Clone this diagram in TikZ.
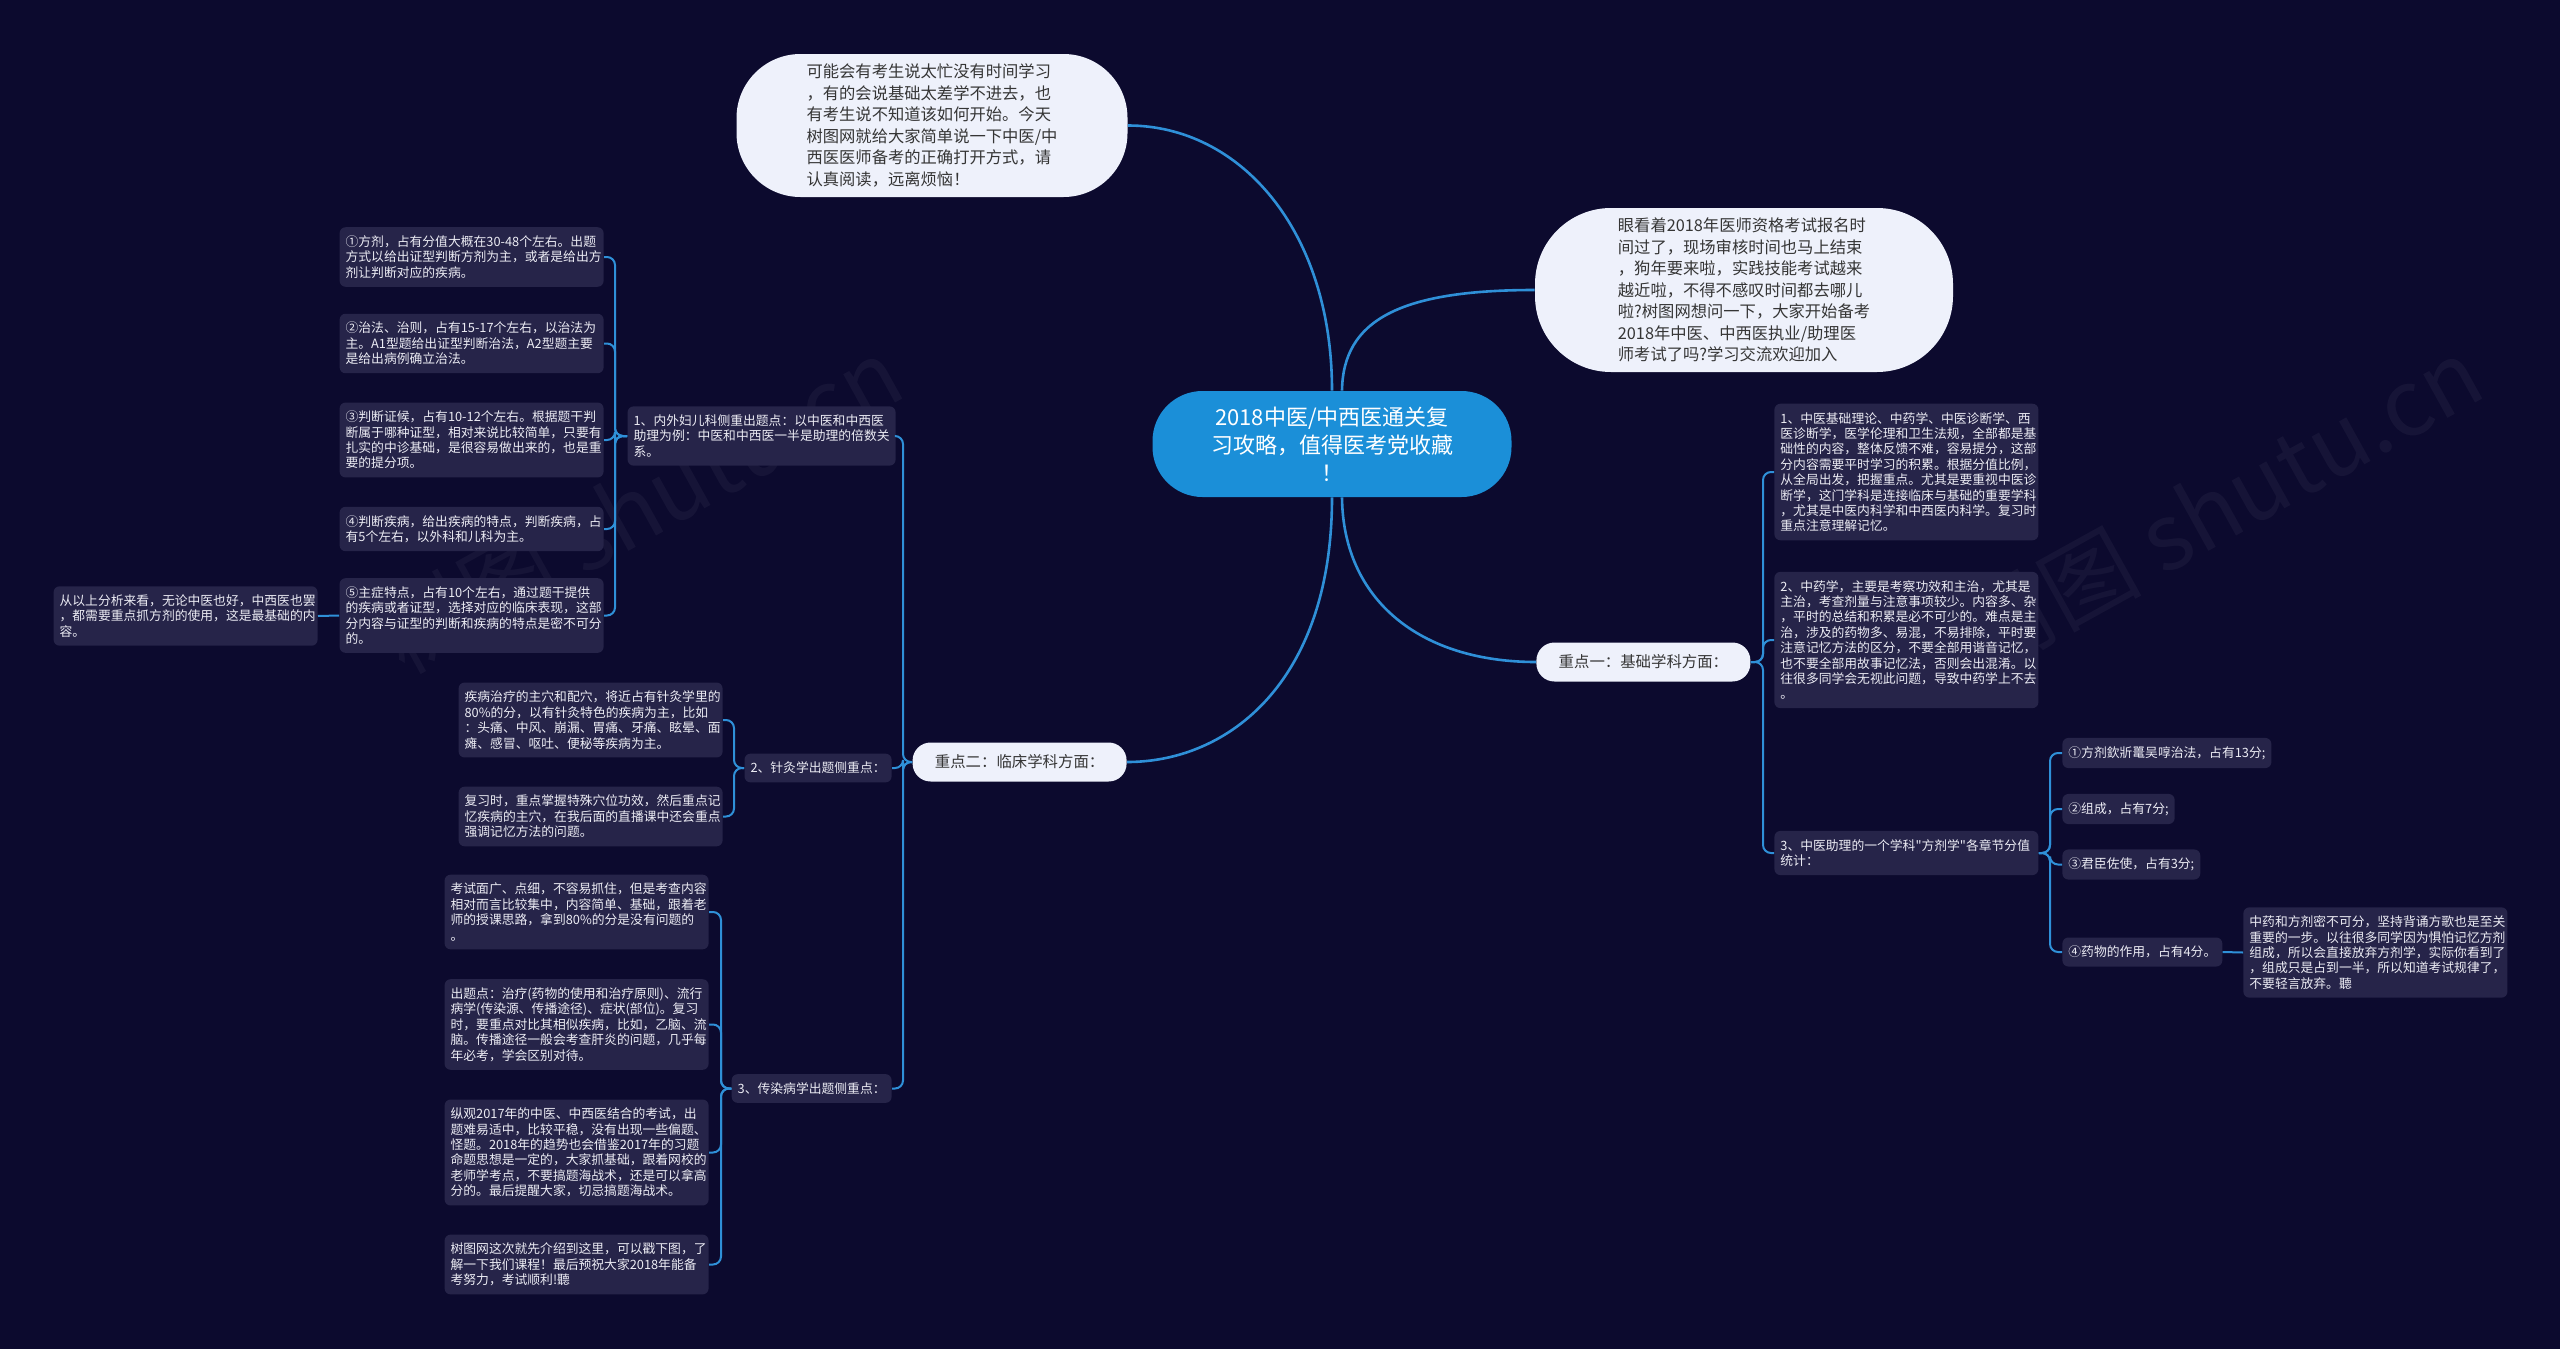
\documentclass[tikz,border=0pt]{standalone}
\usepackage{fontspec}
\setmainfont{Noto Sans CJK SC}[Ligatures=TeXOff]
\usepackage{xcolor}
\usepackage{tikz}
\definecolor{bgnavy}{HTML}{0C0A2E}
\definecolor{leaffill}{HTML}{262449}
\definecolor{leaftext}{HTML}{ECECF4}
\definecolor{linkblue}{HTML}{2F90D8}
\definecolor{hubblue}{HTML}{1B8FD8}
\definecolor{pillfill}{HTML}{EEF1FB}
\definecolor{pilltext}{HTML}{353535}

\begin{document}
\begin{tikzpicture}[x=0.5pt,y=-0.5pt,
card/.style={fill=leaffill,rounded corners=3pt,align=left,inner xsep=3pt,inner ysep=4.2pt,text=leaftext,font=\fontsize{6.4pt}{7.7pt}\selectfont},
leaf/.style={card,text width=126pt},
pill/.style={fill=pillfill,text=pilltext,rounded corners=9pt,minimum width=107pt,minimum height=19.5pt,font=\fontsize{7.7pt}{9pt}\selectfont},
bubble/.style={fill=pillfill,text=pilltext,align=left,font=\fontsize{8.15pt}{10.75pt}\selectfont},
hub/.style={fill=hubblue,text=white,align=center,rounded corners=25pt,minimum width=179.5pt,minimum height=53pt,font=\fontsize{11pt}{14pt}\selectfont},
trunk/.style={draw=linkblue,line width=1.3pt},
link/.style={draw=linkblue,line width=1pt,rounded corners=4pt},
wmtext/.style={text=white,opacity=0.045,rotate=29,font=\fontsize{46pt}{46pt}\selectfont}]
\useasboundingbox (0,0) rectangle (2560,1349);
\fill[bgnavy] (0,0) rectangle (2560,1349);
\node[wmtext] (wmleft) at (640,505) {树图 shutu.cn};
\node[wmtext] (wmright) at (2220,505) {树图 shutu.cn};

\node[hub] (hub) at (1332,444) {2018中医/中西医通关复\\习攻略，值得医考党收藏\\！};
\node[bubble,minimum width=195.5pt,minimum height=71.5pt,rounded corners=32pt] (intro) at (932,125.5)
 {可能会有考生说太忙没有时间学习\\，有的会说基础太差学不进去，也\\有考生说不知道该如何开始。今天\\树图网就给大家简单说一下中医/中\\西医医师备考的正确打开方式，请\\认真阅读，远离烦恼！};
\node[bubble,minimum width=209pt,minimum height=82pt,rounded corners=38pt] (ask) at (1744,290)
 {眼看着2018年医师资格考试报名时\\间过了，现场审核时间也马上结束\\，狗年要来啦，实践技能考试越来\\越近啦，不得不感叹时间都去哪儿\\啦?树图网想问一下，大家开始备考\\2018年中医、中西医执业/助理医\\师考试了吗?学习交流欢迎加入};
\node[pill,anchor=east] (clin) at (1127,762) {重点二：临床学科方面：};
\node[pill,anchor=west] (basic) at (1536,662) {重点一：基础学科方面：};

\node[leaf,anchor=east,text width=128pt] (neiwai) at (896,436) {1、内外妇儿科侧重出题点：以中医和中西医\\助理为例：中医和中西医一半是助理的倍数关\\系。};
\node[leaf,anchor=east] (fangji) at (604,257) {①方剂，占有分值大概在30-48个左右。出题\\方式以给出证型判断方剂为主，或者是给出方\\剂让判断对应的疾病。};
\node[leaf,anchor=east] (zhifa) at (604,343.5) {②治法、治则，占有15-17个左右，以治法为\\主。A1型题给出证型判断治法，A2型题主要\\是给出病例确立治法。};
\node[leaf,anchor=east] (zhenghou) at (604,440) {③判断证候，占有10-12个左右。根据题干判\\断属于哪种证型，相对来说比较简单，只要有\\扎实的中诊基础，是很容易做出来的，也是重\\要的提分项。};
\node[leaf,anchor=east] (jibing) at (604,529) {④判断疾病，给出疾病的特点，判断疾病，占\\有5个左右，以外科和儿科为主。};
\node[leaf,anchor=east] (zhuzheng) at (604,615.5) {⑤主症特点，占有10个左右，通过题干提供\\的疾病或者证型，选择对应的临床表现，这部\\分内容与证型的判断和疾病的特点是密不可分\\的。};
\node[leaf,anchor=east] (summary) at (318,616) {从以上分析来看，无论中医也好，中西医也罢\\，都需要重点抓方剂的使用，这是最基础的内\\容。};

\node[card,anchor=east] (zhenjiu) at (892,768) {2、针灸学出题侧重点：};
\node[leaf,anchor=east] (xuewei) at (723,720) {疾病治疗的主穴和配穴，将近占有针灸学里的\\80\%的分，以有针灸特色的疾病为主，比如\\：头痛、中风、崩漏、胃痛、牙痛、眩晕、面\\瘫、感冒、呕吐、便秘等疾病为主。};
\node[leaf,anchor=east] (fuxi) at (723,816.5) {复习时，重点掌握特殊穴位功效，然后重点记\\忆疾病的主穴，在我后面的直播课中还会重点\\强调记忆方法的问题。};

\node[card,anchor=east] (chuanran) at (892,1088.5) {3、传染病学出题侧重点：};
\node[leaf,anchor=east] (kaoshi) at (709,912) {考试面广、点细，不容易抓住，但是考查内容\\相对而言比较集中，内容简单、基础，跟着老\\师的授课思路，拿到80\%的分是没有问题的\\。};
\node[leaf,anchor=east] (chuti) at (709,1024.5) {出题点：治疗(药物的使用和治疗原则)、流行\\病学(传染源、传播途径)、症状(部位)。复习\\时，要重点对比其相似疾病，比如，乙脑、流\\脑。传播途径一般会考查肝炎的问题，几乎每\\年必考，学会区别对待。};
\node[leaf,anchor=east] (zongguan) at (709,1152.5) {纵观2017年的中医、中西医结合的考试，出\\题难易适中，比较平稳，没有出现一些偏题、\\怪题。2018年的趋势也会借鉴2017年的习题\\命题思想是一定的，大家抓基础，跟着网校的\\老师学考点，不要搞题海战术，还是可以拿高\\分的。最后提醒大家，切忌搞题海战术。};
\node[leaf,anchor=east] (jieshu) at (709,1264.5) {树图网这次就先介绍到这里，可以戳下图，了\\解一下我们课程！最后预祝大家2018年能备\\考努力，考试顺利!聽};

\node[leaf,anchor=west] (jichu) at (1774,472) {1、中医基础理论、中药学、中医诊断学、西\\医诊断学，医学伦理和卫生法规，全部都是基\\础性的内容，整体反馈不难，容易提分，这部\\分内容需要平时学习的积累。根据分值比例，\\从全局出发，把握重点。尤其是要重视中医诊\\断学，这门学科是连接临床与基础的重要学科\\，尤其是中医内科学和中西医内科学。复习时\\重点注意理解记忆。};
\node[leaf,anchor=west] (zhongyao) at (1774,640) {2、中药学，主要是考察功效和主治，尤其是\\主治，考查剂量与注意事项较少。内容多、杂\\，平时的总结和积累是必不可少的。难点是主\\治，涉及的药物多、易混，不易排除，平时要\\注意记忆方法的区分，不要全部用谐音记忆，\\也不要全部用故事记忆法，否则会出混淆。以\\往很多同学会无视此问题，导致中药学上不去\\。};
\node[leaf,anchor=west] (fangjixue) at (1774,853) {3、中医助理的一个学科"方剂学"各章节分值\\统计：};
\node[card,anchor=west] (gejue) at (2062,753) {①方剂欽斨鼍吴啍治法，占有13分;};
\node[card,anchor=west] (zucheng) at (2062,809) {②组成，占有7分;};
\node[card,anchor=west] (junchen) at (2062,864.5) {③君臣佐使，占有3分;};
\node[card,anchor=west] (yaowu) at (2062,952) {④药物的作用，占有4分。};
\node[leaf,anchor=west] (beisong) at (2243,952.5) {中药和方剂密不可分，坚持背诵方歌也是至关\\重要的一步。以往很多同学因为惧怕记忆方剂\\组成，所以会直接放弃方剂学，实际你看到了\\，组成只是占到一半，所以知道考试规律了，\\不要轻言放弃。聽};

\draw[trunk] (hub.north) .. controls (1332,230) and (1240,125.5) .. (intro.east);
\draw[trunk] ([xshift=5pt]hub.north) .. controls (1343,320) and (1400,290) .. (ask.west);
\draw[trunk] (hub.south) .. controls (1332,680) and (1230,762) .. (clin.east);
\draw[trunk] ([xshift=5pt]hub.south) .. controls (1343,600) and (1420,662) .. (basic.west);

\coordinate (clinj) at (903,762);
\foreach \n in {neiwai,zhenjiu,chuanran} \draw[link] (clin.west) -- (clinj) |- (\n.east);
\coordinate (neiwaij) at (615,436);
\foreach \n in {fangji,zhifa,zhenghou,jibing,zhuzheng} \draw[link] (neiwai.west) -- (neiwaij) |- (\n.east);
\draw[link] (zhuzheng.west) -- (summary.east);
\coordinate (zhenjiuj) at (734,768);
\foreach \n in {xuewei,fuxi} \draw[link] (zhenjiu.west) -- (zhenjiuj) |- (\n.east);
\coordinate (chuanranj) at (721,1088.5);
\foreach \n in {kaoshi,chuti,zongguan,jieshu} \draw[link] (chuanran.west) -- (chuanranj) |- (\n.east);
\coordinate (basicj) at (1763,662);
\foreach \n in {jichu,zhongyao,fangjixue} \draw[link] (basic.east) -- (basicj) |- (\n.west);
\coordinate (fangjixuej) at (2050,853);
\foreach \n in {gejue,zucheng,junchen,yaowu} \draw[link] (fangjixue.east) -- (fangjixuej) |- (\n.west);
\draw[link] (yaowu.east) -- (beisong.west);
\end{tikzpicture}
\end{document}
